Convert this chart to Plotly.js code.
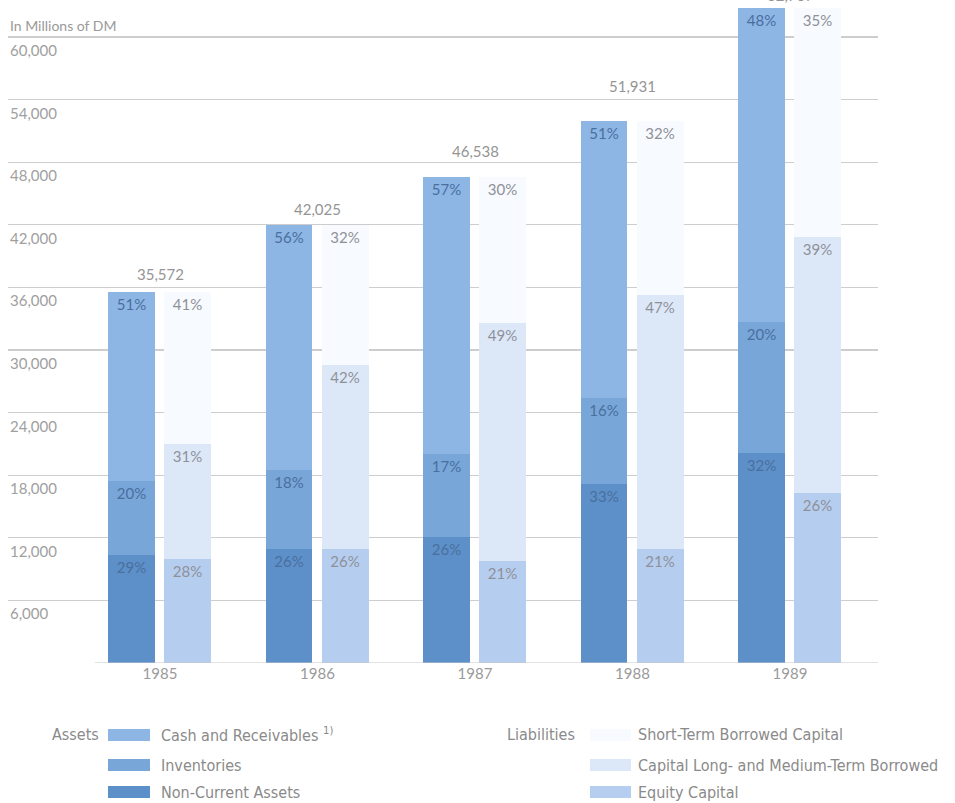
<!DOCTYPE html>
<html>
<head>
<meta charset="utf-8">
<script src="https://cdn.plot.ly/plotly-3.0.1.min.js"></script>
<style>html,body{margin:0;padding:0;background:#fff;}#chart{width:955px;height:803px;}</style>
</head>
<body>
<div id="chart"></div>
<script>
// ---- Data ----
const years = ['1985', '1986', '1987', '1988', '1989'];
const totals = [35572, 42025, 46538, 51931, 62767];
// Assets (percent of total)
const pctNonCurrent = [29, 26, 26, 33, 32];
const pctInventories = [20, 18, 17, 16, 20];
const pctCash = [51, 56, 57, 51, 48];
// Liabilities (percent of total)
const pctEquity = [28, 26, 21, 21, 26];
const pctLongMedium = [31, 42, 49, 47, 39];
const pctShortTerm = [41, 32, 30, 32, 35];
const yTicks = [6000, 12000, 18000, 24000, 30000, 36000, 42000, 48000, 54000, 60000];

// ---- Layout helpers ----
const W = 955, H = 803;
const M = {l: 8, r: 77, t: 5, b: 140};
const PW = W - M.l - M.r, PH = H - M.t - M.b;
const px = x => (x - M.l) / PW;
const py = y => (H - M.b - y) / PH;

const idx = years.map((_, i) => i);
const xA = idx.map(i => i - 0.181);
const xL = idx.map(i => i + 0.175);
const BW = 0.298;
// pixel gap between bar top and the centre of its total label, per year (layout only)
const totalLabelShift = [18, 16, 26, 35, 13];

const seg = pcts => pcts.map((p, i) => totals[i] * p / 100);
const pctText = pcts => pcts.map(p => p + '%');

const cAssetTxt = '#4a6f9e';
const cLiabTxt = '#8f9198';
const numFont = 'Lato, "Open Sans", sans-serif';
const legFont = '"Liberation Sans Narrow", "DejaVu Sans Condensed", "Roboto", sans-serif';

const series = [
  {x: xA, p: pctNonCurrent, color: '#5d90c9', tc: cAssetTxt, name: 'Non-Current Assets'},
  {x: xA, p: pctInventories, color: '#78a6d8', tc: cAssetTxt, name: 'Inventories'},
  {x: xA, p: pctCash, color: '#8db6e5', tc: cAssetTxt, name: 'Cash and Receivables'},
  {x: xL, p: pctEquity, color: '#b5cdef', tc: cLiabTxt, name: 'Equity Capital'},
  {x: xL, p: pctLongMedium, color: '#dce8f8', tc: cLiabTxt, name: 'Capital Long- and Medium-Term Borrowed'},
  {x: xL, p: pctShortTerm, color: '#f7fafe', tc: cLiabTxt, name: 'Short-Term Borrowed Capital'}
];

const traces = series.map(s => ({
  type: 'bar',
  x: s.x,
  y: seg(s.p),
  width: BW,
  name: s.name,
  marker: {color: s.color, line: {width: 0}},
  text: pctText(s.p),
  textposition: 'inside',
  insidetextanchor: 'end',
  textangle: 0,
  constraintext: 'none',
  textfont: {family: numFont, size: 15, color: s.tc},
  hoverinfo: 'skip'
}));

const yTop = (H - M.b - M.t) * 60000 / 626;

const annotations = [];
// y tick labels under gridlines
yTicks.forEach(v => annotations.push({
  xref: 'paper', yref: 'y', x: 0, y: v, xanchor: 'left', yanchor: 'top',
  text: v.toLocaleString('en-US'), showarrow: false, yshift: -2,
  font: {family: numFont, size: 15, color: '#a0a0a0'}
}));
annotations.push({
  xref: 'paper', yref: 'y', x: 0, y: 60000, xanchor: 'left', yanchor: 'bottom',
  text: 'In Millions of DM', showarrow: false, yshift: 1,
  font: {family: numFont, size: 14, color: '#9a9a9a'}
});
// totals above each pair
totals.forEach((t, i) => annotations.push({
  xref: 'x', yref: 'y', x: i, y: t, xanchor: 'center', yanchor: 'middle',
  text: t.toLocaleString('en-US'), showarrow: false, yshift: totalLabelShift[i],
  font: {family: numFont, size: 15, color: '#959595'}
}));

// custom legend
const shapes = [];
const legRows = [735, 765, 792];
const assetLeg = [series[2], series[1], series[0]];
const liabLeg = [series[5], series[4], series[3]];
const assetLabels = ['Cash and Receivables <sup>1)</sup>', 'Inventories', 'Non-Current Assets'];
const liabLabels = ['Short-Term Borrowed Capital', 'Capital Long- and Medium-Term Borrowed', 'Equity Capital'];
const legSize = 16;
legRows.forEach((ry, r) => {
  shapes.push({type: 'rect', xref: 'paper', yref: 'paper', x0: px(108), x1: px(150), y0: py(ry + 6), y1: py(ry - 6),
    fillcolor: assetLeg[r].color, line: {width: 0}});
  shapes.push({type: 'rect', xref: 'paper', yref: 'paper', x0: px(590), x1: px(631), y0: py(ry + 6), y1: py(ry - 6),
    fillcolor: liabLeg[r].color, line: {width: 0}});
  annotations.push({xref: 'paper', yref: 'paper', x: px(159), y: py(ry), xanchor: 'left', yanchor: 'middle',
    text: assetLabels[r], showarrow: false, font: {family: legFont, size: legSize, color: '#8a8a8a'}});
  annotations.push({xref: 'paper', yref: 'paper', x: px(636), y: py(ry), xanchor: 'left', yanchor: 'middle',
    text: liabLabels[r], showarrow: false, font: {family: legFont, size: legSize, color: '#8a8a8a'}});
});
annotations.push({xref: 'paper', yref: 'paper', x: px(101), y: py(legRows[0]), xanchor: 'right', yanchor: 'middle',
  text: 'Assets', showarrow: false, font: {family: legFont, size: legSize, color: '#8a8a8a'}});
annotations.push({xref: 'paper', yref: 'paper', x: px(505), y: py(legRows[0]), xanchor: 'left', yanchor: 'middle',
  text: 'Liabilities', showarrow: false, font: {family: legFont, size: legSize, color: '#8a8a8a'}});
// baseline
shapes.push({type: 'line', xref: 'x', yref: 'y', x0: -0.413, x1: 4.559, y0: 0, y1: 0,
  line: {color: '#c8c8c8', width: 1.2}, layer: 'above'});

const layout = {
  width: W, height: H,
  margin: M,
  paper_bgcolor: '#ffffff', plot_bgcolor: '#ffffff',
  barmode: 'stack',
  showlegend: false,
  hovermode: false,
  xaxis: {
    range: [(M.l - 160) / 157.5, (W - M.r - 160) / 157.5],
    tickvals: idx, ticktext: years, ticks: '', showgrid: false, zeroline: false, showline: false,
    tickfont: {family: numFont, size: 15, color: '#9a9a9a'}, fixedrange: true
  },
  yaxis: {
    range: [0, yTop],
    tickvals: yTicks, showticklabels: false, ticks: '',
    showgrid: true, gridcolor: '#cdcdcd', gridwidth: 1.2,
    zeroline: false, showline: false, fixedrange: true
  },
  annotations: annotations,
  shapes: shapes
};

Plotly.newPlot('chart', traces, layout, {displayModeBar: false, staticPlot: true});
</script>
</body>
</html>
